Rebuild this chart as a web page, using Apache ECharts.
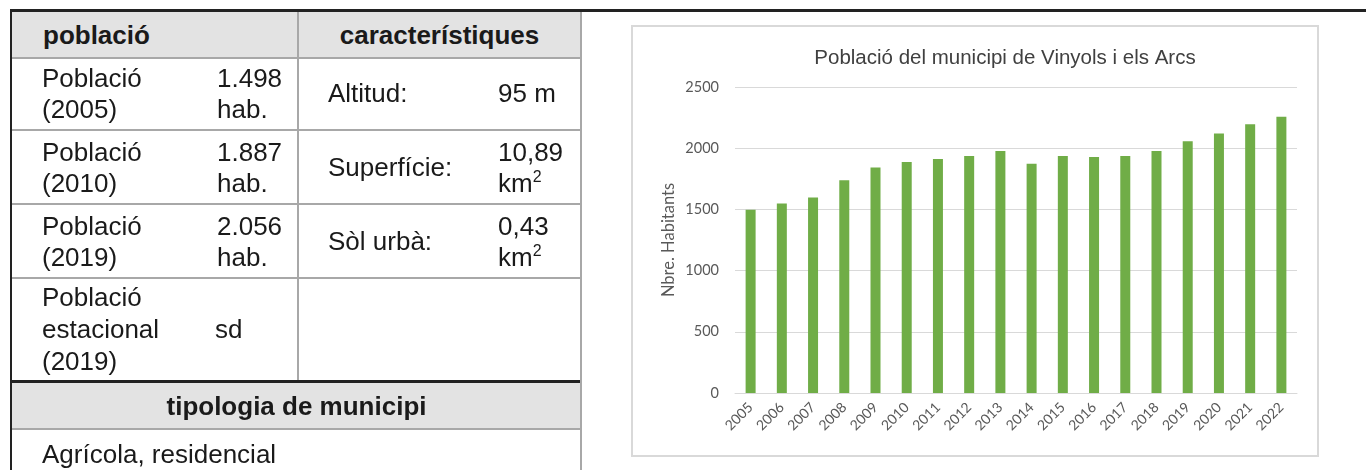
<!DOCTYPE html>
<html>
<head>
<meta charset="utf-8">
<script src="https://cdn.jsdelivr.net/npm/echarts@6/dist/echarts.min.js"></script>
<style>
  html, body { margin: 0; padding: 0; background: #ffffff; }
  body { width: 1366px; height: 470px; position: relative; overflow: hidden; }
  #chart { position: absolute; left: 0; top: 0; width: 1366px; height: 470px; }
  .ln { position: absolute; }
  .t { position: absolute; font-family: "Liberation Sans", Arial, sans-serif; font-size: 26px; line-height: 31px; color: #1a1a1a; white-space: nowrap; }
  .b { font-weight: bold; }
  sup { font-size: 16px; line-height: 0; vertical-align: 10px; }
</style>
</head>
<body>
<div id="chart"></div>
<div id="table"></div>
<script>
// ---- data ----
const years = ['2005','2006','2007','2008','2009','2010','2011','2012','2013','2014','2015','2016','2017','2018','2019','2020','2021','2022'];
const population = [1498, 1548, 1597, 1739, 1842, 1887, 1912, 1936, 1978, 1872, 1936, 1928, 1936, 1978, 2056, 2120, 2196, 2256];
const yTicks = [0, 500, 1000, 1500, 2000, 2500];
const chartTitle = 'Població del municipi de Vinyols i els Arcs';
const yAxisName = 'Nbre. Habitants';

// table contents
const headers = ['població', 'característiques'];
const popLabels = [['Població', '(2005)'], ['Població', '(2010)'], ['Població', '(2019)'], ['Població', 'estacional', '(2019)']];
const popValues = [['1.498', 'hab.'], ['1.887', 'hab.'], ['2.056', 'hab.'], ['sd']];
const charLabels = ['Altitud:', 'Superfície:', 'Sòl urbà:'];
const charValues = [['95 m'], ['10,89', 'km<sup>2</sup>'], ['0,43', 'km<sup>2</sup>']];
const typeHeader = 'tipologia de municipi';
const typeValue = 'Agrícola, residencial';

// ---- table (HTML) ----
const tb = document.getElementById('table');
function line(x, y, w, h, c) {
  const d = document.createElement('div');
  d.className = 'ln';
  d.style.cssText = `left:${x}px;top:${y}px;width:${w}px;height:${h}px;background:${c};`;
  tb.appendChild(d);
}
function text(x, y, html, cls, extra) {
  const d = document.createElement('div');
  d.className = 't ' + (cls || '');
  d.style.left = x + 'px';
  d.style.top = y + 'px';
  if (extra) d.style.cssText += extra;
  d.innerHTML = html;
  tb.appendChild(d);
}
const gray = '#a8a8a8';
// backgrounds
line(12, 12, 569, 45, '#e3e3e3');
line(12, 383, 569, 45, '#e3e3e3');
// top black rule and left border
line(10, 9, 1356, 3, '#222');
line(10, 9, 2, 461, '#222');
// horizontal grey lines
line(12, 57, 569, 2, gray);
line(12, 129, 569, 2, gray);
line(12, 203, 569, 2, gray);
line(12, 277, 569, 2, gray);
line(12, 428, 569, 2, gray);
// black line above tipologia
line(10, 380, 572, 3, '#222');
// vertical divider and right border
line(297, 12, 2, 368, gray);
line(580, 12, 2, 458, gray);

// header texts
text(43, 20, headers[0], 'b');
text(299, 20, headers[1], 'b', 'width:281px;text-align:center;');
// rows
const rowTops = [63, 137, 211];
for (let i = 0; i < 3; i++) {
  text(42, rowTops[i], popLabels[i].join('<br>'));
  text(217, rowTops[i], popValues[i].join('<br>'));
  text(328, rowTops[i] + 15, charLabels[i]);
  if (charValues[i].length === 1) text(498, rowTops[i] + 15, charValues[i][0]);
  else text(498, rowTops[i], charValues[i].join('<br>'));
}
text(42, 281, popLabels[3].join('<br>'), '', 'line-height:32px;');
text(215, 281 + 32, popValues[3][0], '', 'line-height:32px;');
text(12, 391, typeHeader, 'b', 'width:569px;text-align:center;');
text(42, 439, typeValue);

// ---- chart ----
const chart = echarts.init(document.getElementById('chart'), null, { renderer: 'canvas' });
const lblColor = '#595959';
const chartFont = 'Lato, "Open Sans", sans-serif';
chart.setOption({
  animation: false,
  backgroundColor: 'transparent',
  title: {
    text: chartTitle,
    left: 1000,
    top: 43,
    textAlign: 'center',
    textStyle: { fontFamily: '"Liberation Sans", Arial, sans-serif', fontSize: 20.5, fontWeight: 'normal', color: '#404040' }
  },
  graphic: [{
    type: 'rect',
    shape: { x: 632, y: 26, width: 686, height: 430 },
    style: { fill: '#fff', stroke: '#d9d9d9', lineWidth: 2 },
    z: -10
  }],
  grid: { left: 735, right: 69, top: 87, bottom: 77, containLabel: false },
  xAxis: {
    type: 'category',
    data: years,
    axisLine: { show: true, lineStyle: { color: '#d9d9d9', width: 1 } },
    axisTick: { show: false },
    axisLabel: { rotate: 45, margin: 12, color: lblColor, fontFamily: chartFont, fontSize: 14, interval: 0 }
  },
  yAxis: {
    type: 'value',
    min: yTicks[0],
    max: yTicks[yTicks.length - 1],
    interval: yTicks[1] - yTicks[0],
    name: yAxisName,
    nameLocation: 'middle',
    nameGap: 58,
    nameRotate: 90,
    nameTextStyle: { color: lblColor, fontFamily: chartFont, fontSize: 16.5 },
    axisLine: { show: false },
    axisTick: { show: false },
    axisLabel: { margin: 16, color: lblColor, fontFamily: chartFont, fontSize: 14.5, formatter: function (v) { return String(v); } },
    splitLine: { lineStyle: { color: '#d9d9d9', width: 1 } }
  },
  series: [{
    type: 'bar',
    data: population,
    barWidth: 10,
    itemStyle: { color: '#70ad47' }
  }]
});
</script>
</body>
</html>
